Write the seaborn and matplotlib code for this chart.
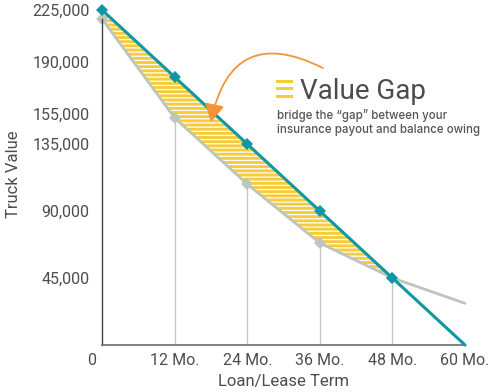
import numpy as np
import pandas as pd
import matplotlib
matplotlib.use('Agg')
import matplotlib.pyplot as plt
import matplotlib.transforms as mtransforms
from matplotlib.patches import Rectangle
import seaborn as sns

# ---- data ----
months = [0, 12, 24, 36, 48, 60]
balance_owing = [225000, 180000, 135000, 90000, 45000, 0]
truck_value = [219000, 152500, 108000, 68500, 45000, 28000]
y_ticks = [45000, 90000, 135000, 155000, 190000, 225000]
x_tick_labels = ['0', '12 Mo.', '24 Mo.', '36 Mo.', '48 Mo.', '60 Mo.']
gap_months = months[:5]

TEAL = '#0f98a3'
GRAY = '#bcc6bd'
YELLOW = '#f6cc3c'
ORANGE = '#f5923a'
TEXT = '#4d4d4d'

sns.set_theme(style='white')
plt.rcParams['font.family'] = ['Roboto', 'DejaVu Sans']
plt.rcParams['hatch.linewidth'] = 0.9

fig = plt.figure(figsize=(4.93, 3.92), dpi=100)
ax = fig.add_axes([102 / 493, 47 / 392, 363 / 493, 342.5 / 392])

df = pd.DataFrame({'month': months, 'owing': balance_owing, 'value': truck_value})

# value gap fill
ax.fill_between(gap_months, truck_value[:5], balance_owing[:5],
                facecolor=YELLOW, edgecolor='white', hatch='----',
                linewidth=0, zorder=1)

# drop lines
ax.vlines(months[1:5], 0, truck_value[1:5], color='#c4c4c4', lw=0.9, zorder=1.5)

sns.lineplot(data=df, x='month', y='value', ax=ax, color=GRAY, linewidth=2.0,
             marker='D', markersize=6.5, markeredgewidth=0,
             markevery=[0, 1, 2, 3, 4], zorder=2, clip_on=False)
sns.lineplot(data=df, x='month', y='owing', ax=ax, color=TEAL, linewidth=2.2,
             marker='D', markersize=6.5, markeredgewidth=0,
             markevery=[0, 1, 2, 3, 4], zorder=3, clip_on=False)

ax.set_xlim(0, 60)
ax.set_ylim(0, 230000)
ax.set_yticks(y_ticks)
ax.set_yticklabels([f'{v:,}' for v in y_ticks])
ax.set_xticks(months)
ax.set_xticklabels(x_tick_labels)
ax.tick_params(axis='both', length=0, labelsize=11.5, labelcolor=TEXT)
ax.tick_params(axis='y', pad=9)
ax.tick_params(axis='x', pad=6)
off = mtransforms.ScaledTranslation(-10 / 100, 0, fig.dpi_scale_trans)
lbl0 = ax.get_xticklabels()[0]
lbl0.set_transform(lbl0.get_transform() + off)

ax.set_xlabel('Loan/Lease Term', fontsize=12, color=TEXT, labelpad=4)
ax.set_ylabel('Truck Value', fontsize=12, color=TEXT, labelpad=8)

for s in ['top', 'right']:
    ax.spines[s].set_visible(False)
ax.spines['left'].set_bounds(0, truck_value[0])
ax.spines['left'].set_color('#444444')
ax.spines['left'].set_linewidth(1.0)
ax.spines['bottom'].set_color('#777777')
ax.spines['bottom'].set_linewidth(1.3)
ax.set_facecolor('white')
ax.grid(False)

# arrow
ax.annotate('', xy=(18.0, 149800), xytext=(36.5, 186000),
            arrowprops=dict(arrowstyle='-|>,head_length=0.9,head_width=0.5',
                            connectionstyle='arc3,rad=0.65', color=ORANGE,
                            lw=1.3, mutation_scale=12, shrinkA=0, shrinkB=0),
            zorder=5)

# legend-like annotation
for top in [80, 87, 95]:
    fig.add_artist(Rectangle((276 / 493, (392 - top - 3) / 392), 17 / 493, 3 / 392,
                             transform=fig.transFigure, color=YELLOW, lw=0))
fig.text(300 / 493, 1 - 99 / 392, 'Value Gap', fontsize=20, va='baseline',
         color=TEXT)
sub_font = ['Inter', 'DejaVu Sans']
fig.text(277 / 493, 1 - 116 / 392, 'bridge the \u201cgap\u201d between your',
         fontsize=8.3, va='center', color='#555555', fontweight='medium',
         family=sub_font)
fig.text(277 / 493, 1 - 130 / 392, 'insurance payout and balance owing',
         fontsize=8.3, va='center', color='#555555', fontweight='medium',
         family=sub_font)

fig.savefig('out.png', dpi=100, facecolor='white')
